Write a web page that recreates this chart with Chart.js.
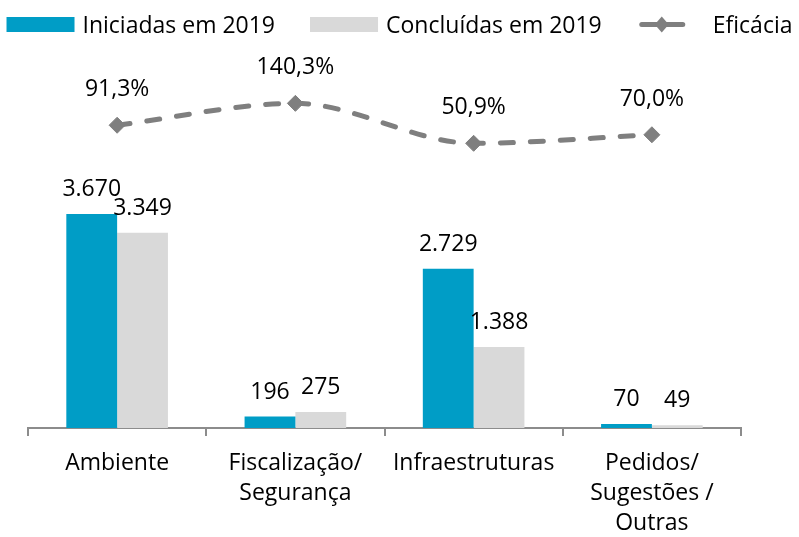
<!DOCTYPE html>
<html lang="pt">
<head>
<meta charset="utf-8">
<title>Iniciadas e concluídas em 2019</title>
<script src="https://cdn.jsdelivr.net/npm/chart.js@4.4.0/dist/chart.umd.min.js"></script>
<style>
  html, body { margin: 0; padding: 0; background: #fff; }
  #wrap { width: 799px; height: 537px; position: relative; }
</style>
</head>
<body>
<div id="wrap"><canvas id="chart"></canvas></div>
<script>
// Categories and series
const categories = [
    'Ambiente',
    ['Fiscalização/', 'Segurança'],
    'Infraestruturas',
    ['Pedidos/', 'Sugestões /', 'Outras']
];
const iniciadas = [3670, 196, 2729, 70];
const concluidas = [3349, 275, 1388, 49];
const eficacia = [91.3, 140.3, 50.9, 70.0];   // %

const FONT = '"Open Sans", "Noto Sans", sans-serif';
const TEXT = '#000000';
const BLUE = '#009DC6';
const LIGHT = '#D9D9D9';
const LINE = '#7F7F7F';

// 3670 -> "3.670", 91.3 -> "91,3%"
const fmtInt = v => String(v).replace(/\B(?=(\d{3})+(?!\d))/g, '.');
const fmtPct = v => v.toFixed(1).replace('.', ',') + '%';

// Value labels above bars and line points
const valueLabels = {
    id: 'valueLabels',
    afterDatasetsDraw(chart) {
        const ctx = chart.ctx;
        ctx.save();
        ctx.font = '23px ' + FONT;
        ctx.fillStyle = TEXT;
        ctx.textAlign = 'center';
        ctx.textBaseline = 'alphabetic';
        chart.data.datasets.forEach((ds, i) => {
            chart.getDatasetMeta(i).data.forEach((el, j) => {
                const v = ds.data[j];
                if (ds.type === 'line') ctx.fillText(fmtPct(v), el.x, el.y - 29);
                else ctx.fillText(fmtInt(v), el.x, el.y - 18);
            });
        });
        ctx.restore();
    }
};

// Legend row across the top (drawn by hand so it stays on one line)
const topLegend = {
    id: 'topLegend',
    afterDraw(chart) {
        const ctx = chart.ctx;
        const swatchW = 68, textGap = 8, itemGap = 35, cy = 24.5;
        ctx.save();
        ctx.font = '23px ' + FONT;
        const items = chart.data.datasets.map(ds => ({ ds, w: ctx.measureText(ds.label).width }));
        const total = items.reduce((s, it) => s + swatchW + textGap + it.w, 0) + itemGap * (items.length - 1);
        let x = (chart.width - total) / 2;
        items.forEach(({ ds, w }) => {
            if (ds.type === 'line') {
                ctx.strokeStyle = LINE;
                ctx.fillStyle = LINE;
                ctx.lineWidth = 5;
                ctx.lineCap = 'round';
                ctx.beginPath();
                ctx.moveTo(x + 5, cy);
                ctx.lineTo(x + 46, cy);
                ctx.stroke();
                ctx.beginPath();
                ctx.moveTo(x + 25, cy - 8);
                ctx.lineTo(x + 32, cy);
                ctx.lineTo(x + 25, cy + 8);
                ctx.lineTo(x + 18, cy);
                ctx.closePath();
                ctx.fill();
            } else {
                ctx.fillStyle = ds.backgroundColor;
                ctx.fillRect(x, cy - 7.5, swatchW, 15);
            }
            ctx.fillStyle = TEXT;
            ctx.textBaseline = 'alphabetic';
            ctx.textAlign = 'left';
            ctx.fillText(ds.label, x + swatchW + textGap, cy + 8);
            x += swatchW + textGap + w + itemGap;
        });
        ctx.restore();
    }
};

new Chart(document.getElementById('chart'), {
    type: 'bar',
    data: {
        labels: categories,
        datasets: [
            {
                label: 'Iniciadas em 2019',
                data: iniciadas,
                backgroundColor: BLUE,
                categoryPercentage: 0.57,
                barPercentage: 1.0,
                order: 2
            },
            {
                label: 'Concluídas em 2019',
                data: concluidas,
                backgroundColor: LIGHT,
                categoryPercentage: 0.57,
                barPercentage: 1.0,
                order: 2
            },
            {
                type: 'line',
                label: 'Eficácia',
                data: eficacia,
                yAxisID: 'y1',
                borderColor: LINE,
                borderWidth: 5,
                borderDash: [13, 17],
                borderCapStyle: 'round',
                cubicInterpolationMode: 'monotone',
                fill: false,
                pointStyle: 'rectRot',
                pointRadius: 8,
                pointBackgroundColor: LINE,
                pointBorderColor: LINE,
                pointBorderWidth: 1,
                order: 1
            }
        ]
    },
    options: {
        responsive: true,
        maintainAspectRatio: false,
        animation: false,
        layout: { padding: { top: 78, left: 28, right: 58, bottom: 0 } },
        plugins: {
            legend: { display: false },
            tooltip: { enabled: false }
        },
        scales: {
            x: {
                grid: {
                    display: true,
                    drawOnChartArea: false,
                    offset: true,
                    tickLength: 8,
                    color: '#8C8C8C',
                    lineWidth: 2
                },
                border: { display: true, color: '#8C8C8C', width: 2 },
                ticks: {
                    color: TEXT,
                    font: { family: FONT, size: 23, lineHeight: 1.3 },
                    padding: 13,
                    maxRotation: 0,
                    autoSkip: false
                },
                afterFit: scale => { scale.height = 109; }
            },
            y: { display: false, min: 0, max: 6000 },
            y1: { display: false, position: 'right', min: -586, max: 197 }
        }
    },
    plugins: [valueLabels, topLegend]
});
</script>
</body>
</html>
